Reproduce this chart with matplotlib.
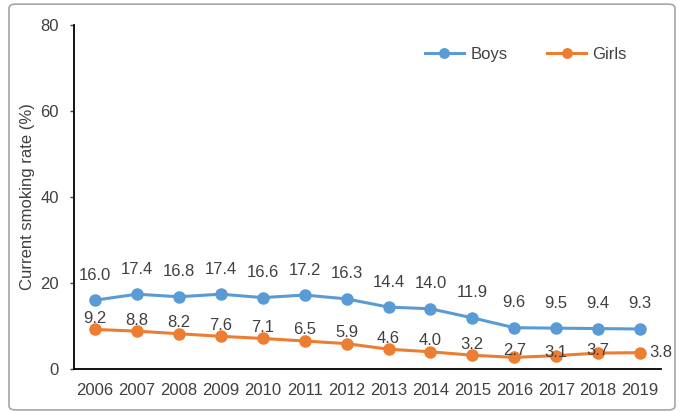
import matplotlib
matplotlib.use('Agg')
from matplotlib import pyplot as plt
from matplotlib.patches import FancyBboxPatch

years = ['2006', '2007', '2008', '2009', '2010', '2011', '2012',
         '2013', '2014', '2015', '2016', '2017', '2018', '2019']
boys = [16.0, 17.4, 16.8, 17.4, 16.6, 17.2, 16.3, 14.4, 14.0, 11.9, 9.6, 9.5, 9.4, 9.3]
girls = [9.2, 8.8, 8.2, 7.6, 7.1, 6.5, 5.9, 4.6, 4.0, 3.2, 2.7, 3.1, 3.7, 3.8]

plt.rcParams['font.family'] = ['Liberation Sans', 'DejaVu Sans']
txt = '#404040'
blue = '#5B9BD5'
orange = '#ED7D31'
fs = 12

fig = plt.figure(figsize=(6.81, 4.12), dpi=100)
ax = fig.add_axes([0.1087, 0.1044, 0.862, 0.8349])

# rounded border around the chart
border = FancyBboxPatch((0.0132, 0.005), 0.978, 0.985, boxstyle='round,pad=0,rounding_size=0.01',
                        transform=fig.transFigure, fill=False, ec='#a6a6a6', lw=1.2)
fig.patches.append(border)

x = list(range(len(years)))
ax.plot(x, boys, color=blue, lw=2.2, marker='o', ms=8, label='Boys')
ax.plot(x, girls, color=orange, lw=2.2, marker='o', ms=8, label='Girls')

for i, v in enumerate(boys):
    ax.annotate(f'{v:.1f}', (i, v), xytext=(0, 18), textcoords='offset points',
                ha='center', va='center', fontsize=fs, color=txt)

girl_off = [(0, 8)] * 10 + [(0, 5), (0, 2), (0, 2), (15, 0)]
for i, v in enumerate(girls):
    ax.annotate(f'{v:.1f}', (i, v), xytext=girl_off[i], textcoords='offset points',
                ha='center', va='center', fontsize=fs, color=txt)

ax.set_xlim(-0.5, len(years) - 0.5)
ax.set_ylim(0, 80)
ax.set_yticks([0, 20, 40, 60, 80])
ax.set_xticks(x)
ax.set_xticklabels(years)
ax.tick_params(axis='x', length=0, pad=10, labelsize=fs, colors=txt)
ax.tick_params(axis='y', length=3, width=1, pad=8, labelsize=fs, colors=txt, direction='out')
ax.set_ylabel('Current smoking rate (%)', fontsize=fs, color=txt, labelpad=4)

for s in ['top', 'right']:
    ax.spines[s].set_visible(False)
for s in ['left', 'bottom']:
    ax.spines[s].set_color('black')
    ax.spines[s].set_linewidth(1.3)

ax.legend(loc='center', bbox_to_anchor=(0.77, 0.915), ncol=2, frameon=False,
          fontsize=fs, labelcolor=txt, columnspacing=2.4, handlelength=2.3, handletextpad=0.4,
          markerscale=0.85)

fig.savefig('out.png', dpi=100)
